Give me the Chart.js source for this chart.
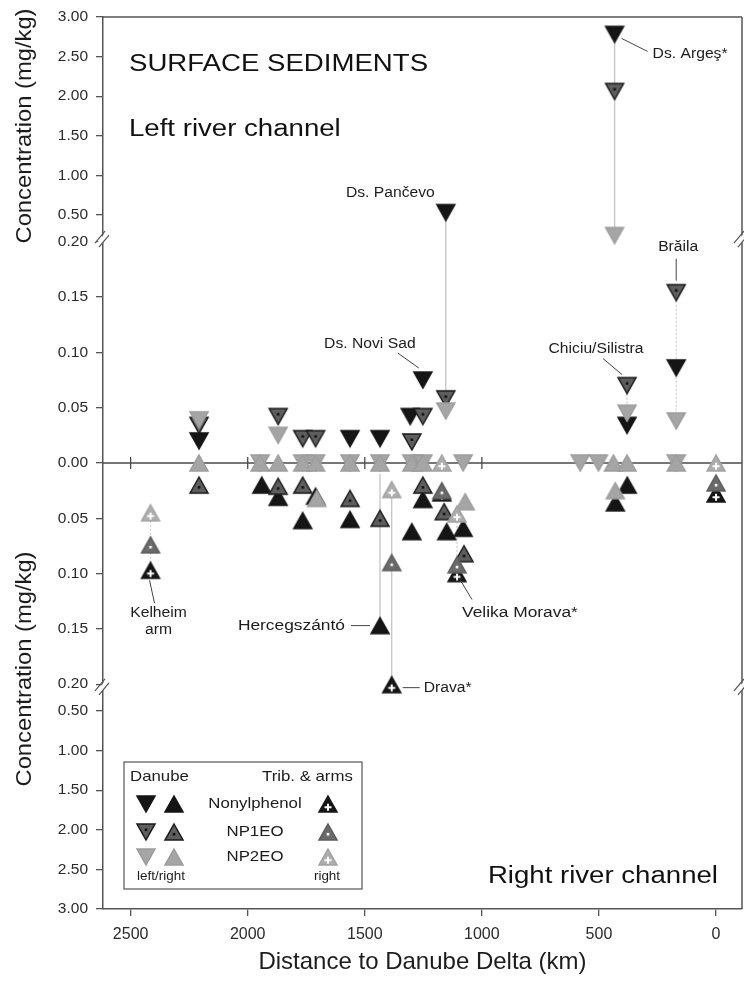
<!DOCTYPE html>
<html>
<head>
<meta charset="utf-8">
<script src="https://cdn.jsdelivr.net/npm/chart.js@4"></script>
<style>
  html, body { margin: 0; padding: 0; background: #fff; }
  #wrap { width: 744px; height: 981px; }
</style>
</head>
<body>
<div id="wrap"><canvas id="myChart" width="744" height="981"></canvas></div>
<script>
// ---- data (km to Danube Delta, concentration mg/kg) ----
// Danube, left river channel (drawn upward)
const npLeftKm   = [2208, 1563, 1435, 1306, 1252, 1154, 433, 380, 170];
const npLeftVal  = [0.020, 0.022, 0.022, 0.042, 0.075, 0.53, 2.78, 0.034, 0.086];
const np1LeftKm  = [2208, 1870, 1765, 1710, 1299, 1252, 1154, 433, 380, 170];
const np1LeftVal = [0.034, 0.042, 0.022, 0.022, 0.019, 0.042, 0.058, 2.06, 0.070, 0.154];
const np2LeftKm  = [2208, 1947, 1870, 1765, 1710, 1563, 1435, 1299, 1252, 1154, 1080, 580, 502, 433, 380, 170, 170];
const np2LeftVal = [0.039, 0, 0.025, 0, 0, 0, 0, 0, 0, 0.047, 0, 0, 0, 0.27, 0.045, 0.038, 0];

// Danube, right river channel (drawn downward)
const npRightKm   = [1940, 1870, 1765, 1710, 1563, 1435, 1299, 1252, 1150, 1080, 430, 379];
const npRightVal  = [0.020, 0.031, 0.052, 0.030, 0.051, 0.147, 0.062, 0.033, 0.062, 0.059, 0.036, 0.020];
const np1RightKm  = [2208, 1870, 1765, 1563, 1435, 1252, 1161, 1076];
const np1RightVal = [0.020, 0.021, 0.020, 0.032, 0.050, 0.020, 0.044, 0.082];
const np2RightKm  = [2208, 1947, 1870, 1765, 1710, 1705, 1563, 1435, 1299, 1252, 1071, 438, 430, 380, 170];
const np2RightVal = [0, 0, 0, 0, 0, 0.032, 0, 0, 0, 0, 0.035, 0, 0.025, 0, 0];

// tributaries & arms (right)
const tribKm     = [2415, 1385, 1171, 1106, 0];
const tribNpVal  = [0.097, 0.205, 0.027, 0.100, 0.028];
const tribNp1Val = [0.074, 0.090, 0.025, 0.092, 0.018];
const tribNp2Val = [0.045, 0.024, 0, 0.046, 0];

// vertical connectors between samples of one site
const linkKm   = [433, 1154, 170, 380, 1435, 1385, 2415, 1106];
const linkFrom = [2.78, 0.53, 0.154, 0.070, 0.010, 0.024, 0.045, 0.046];
const linkTo   = [0.27, 0.047, 0.038, 0.034, 0.147, 0.205, 0.097, 0.100];
const linkSide = ['L', 'L', 'L', 'L', 'R', 'R', 'R', 'R'];
const linkDots = [false, false, true, true, false, false, true, true];

// site labels
const siteNames = ['Ds. Argeş*', 'Ds. Pančevo', 'Ds. Novi Sad', 'Chiciu/Silistra', 'Brăila', 'Kelheim', 'Hercegszántó', 'Drava*', 'Velika Morava*'];
const siteKm    = [433, 1154, 1252, 380, 170, 2415, 1435, 1385, 1106];
const siteVal   = [2.78, 0.53, 0.075, 0.070, 0.154, 0.097, 0.147, 0.205, 0.100];
const siteSide  = ['L', 'L', 'L', 'L', 'L', 'R', 'R', 'R', 'R'];

// axis ticks
const xTickVals = [0, 500, 1000, 1500, 2000, 2500];
const yTickVals = [3.00, 2.50, 2.00, 1.50, 1.00, 0.50, 0.20, 0.15, 0.10, 0.05, 0.00];

// ---- broken axis mapping: 0-0.2 linear, break, 0.5-3 compressed ----
const GAP = 0.485, SEG = 0.716;
function yPos(v) {
  const a = Math.abs(v);
  if (a <= 0.2) return a * 20;
  if (a <= 0.5) return 4 + (a - 0.2) / 0.3 * GAP;
  return 4 + GAP + (a - 0.5) / 0.5 * SEG;
}
const Y_MAX = yPos(3);
const side = (s, v) => s === 'L' ? yPos(v) : -yPos(v);

const yTicks = [];
yTickVals.forEach(v => yTicks.push({ value: yPos(v), label: v.toFixed(2) }));
yTickVals.slice(0, -1).forEach(v => yTicks.push({ value: -yPos(v), label: v.toFixed(2) }));

const FONT = '"Liberation Sans", Arial, sans-serif';

// ---- marker symbols ----
function marker(dir, fill, stroke, mark, markColor) {
  const W = 18, H = 16, p = 2;
  const c = document.createElement('canvas');
  c.width = W + 2 * p; c.height = H + 2 * p;
  const g = c.getContext('2d');
  g.beginPath();
  if (dir === 'down') { g.moveTo(p, p); g.lineTo(p + W, p); g.lineTo(p + W / 2, p + H); }
  else { g.moveTo(p + W / 2, p); g.lineTo(p + W, p + H); g.lineTo(p, p + H); }
  g.closePath();
  g.fillStyle = fill; g.fill();
  if (stroke) { g.lineWidth = 1.5; g.strokeStyle = stroke; g.stroke(); }
  const cx = p + W / 2, cy = dir === 'down' ? p + H * 0.36 : p + H * 0.64;
  if (mark === 'dot') { g.fillStyle = markColor; g.fillRect(cx - 1.3, cy - 1.3, 2.6, 2.6); }
  if (mark === 'cross') {
    g.strokeStyle = markColor; g.lineWidth = 2;
    g.beginPath();
    g.moveTo(cx - 3.5, cy + 1); g.lineTo(cx + 3.5, cy + 1);
    g.moveTo(cx, cy - 2.5); g.lineTo(cx, cy + 4.5);
    g.stroke();
  }
  return c;
}
const sym = {
  npL: marker('down', '#151515', '#151515'),
  np1L: marker('down', '#5e5e5e', '#1a1a1a', 'dot', '#111'),
  np2L: marker('down', '#a5a5a5', '#9d9d9d'),
  npR: marker('up', '#151515', '#151515'),
  np1R: marker('up', '#5e5e5e', '#1a1a1a', 'dot', '#111'),
  np2R: marker('up', '#a5a5a5', '#9d9d9d'),
  tNp: marker('up', '#151515', '#151515', 'cross', '#fff'),
  tNp1: marker('up', '#6a6a6a', '#5c5c5c', 'dot', '#fff'),
  tNp2: marker('up', '#adadad', '#a3a3a3', 'cross', '#fff')
};

function pts(km, vals, s) { return km.map((k, i) => ({ x: k, y: side(s, vals[i]) })); }
function series(km, vals, s, style, order) {
  return { type: 'scatter', data: pts(km, vals, s), pointStyle: style, pointRadius: 9, order: order };
}

const datasets = [];
linkKm.forEach((k, i) => {
  datasets.push({
    type: 'line', order: 50,
    data: [{ x: k, y: side(linkSide[i], linkFrom[i]) }, { x: k, y: side(linkSide[i], linkTo[i]) }],
    borderColor: linkDots[i] ? '#d0d0d0' : '#c4c4c4', borderWidth: 1.3,
    borderDash: linkDots[i] ? [2, 2] : [], pointRadius: 0
  });
});
datasets.push(series(npLeftKm, npLeftVal, 'L', sym.npL, 9));
datasets.push(series(np1LeftKm, np1LeftVal, 'L', sym.np1L, 8));
datasets.push(series(np2LeftKm, np2LeftVal, 'L', sym.np2L, 7));
datasets.push(series(npRightKm, npRightVal, 'R', sym.npR, 6));
datasets.push(series(np1RightKm, np1RightVal, 'R', sym.np1R, 5));
datasets.push(series(np2RightKm, np2RightVal, 'R', sym.np2R, 4));
datasets.push(series(tribKm, tribNpVal, 'R', sym.tNp, 3));
datasets.push(series(tribKm, tribNp1Val, 'R', sym.tNp1, 2));
datasets.push(series(tribKm, tribNp2Val, 'R', sym.tNp2, 1));

// ---- drawing helpers ----
function txt(ctx, s, x, y, size, align, color, sx) {
  ctx.save();
  ctx.font = size + 'px ' + FONT;
  ctx.fillStyle = color || '#1c1c1c';
  ctx.textBaseline = 'middle';
  ctx.textAlign = align || 'left';
  ctx.translate(x, y);
  ctx.scale(sx || 1.15, 1);
  ctx.fillText(s, 0, 0);
  ctx.restore();
}
function seg(ctx, x1, y1, x2, y2, color, w) {
  ctx.save();
  ctx.strokeStyle = color || '#333'; ctx.lineWidth = w || 1;
  ctx.beginPath(); ctx.moveTo(x1, y1); ctx.lineTo(x2, y2); ctx.stroke();
  ctx.restore();
}

// label placement relative to the anchored sample (pixels)
const labelLayout = [
  { dx: 38, dy: 20, align: 'left', lead: [7, 4, 33, 17] },
  { dx: -11, dy: -19, align: 'right' },
  { dx: -53, dy: -36, align: 'center', lead: [-25, -27, -4, -12] },
  { dx: -31, dy: -36, align: 'center', lead: [-24, -27, -5, -11] },
  { dx: 2, dy: -46, align: 'center', lead: [0, -34, 0, -12] },
  { dx: 8, dy: 43, align: 'center', lead: [-1, 10, 4, 33], second: 'arm' },
  { dx: -35, dy: 0, align: 'right', lead: [-29, 0, -10, 0], size: 15.5 },
  { dx: 32, dy: 3, align: 'left', lead: [11, 3, 28, 3] },
  { dx: 5, dy: 39, align: 'left', lead: [3, 6, 15, 26], size: 15.5 }
];

const overlay = {
  id: 'overlay',
  beforeDatasetsDraw(chart) {
    const { ctx, chartArea: a, scales: { x, y } } = chart;
    const y0 = y.getPixelForValue(0);
    seg(ctx, a.left, y0, a.right, y0, '#4a4a4a', 1.3);
    xTickVals.forEach(v => {
      const px = x.getPixelForValue(v);
      seg(ctx, px, y0 - 6, px, y0 + 6, '#4a4a4a', 1.3);
    });
  },
  afterDatasetsDraw(chart) {
    const { ctx, chartArea: a, scales: { x, y } } = chart;
    // frame top / right
    seg(ctx, a.left, a.top, a.right, a.top, '#555', 1.5);
    seg(ctx, a.right, a.top, a.right, a.bottom, '#555', 1.5);
    // axis breaks
    [yPos(0.2) + 0.05, -yPos(0.2) - 0.05].forEach(v => {
      const py = y.getPixelForValue(v);
      [a.left, a.right].forEach(px => {
        ctx.save();
        ctx.fillStyle = '#fff';
        ctx.beginPath();
        ctx.moveTo(px - 7, py + 5); ctx.lineTo(px + 3, py - 7); ctx.lineTo(px + 7, py - 5); ctx.lineTo(px - 3, py + 7);
        ctx.closePath(); ctx.fill();
        ctx.restore();
        seg(ctx, px - 8, py + 4, px + 2, py - 8, '#555', 1.2);
        seg(ctx, px - 4, py + 8, px + 6, py - 4, '#555', 1.2);
      });
    });
    // site labels
    siteNames.forEach((name, i) => {
      const L = labelLayout[i];
      const px = x.getPixelForValue(siteKm[i]);
      const py = y.getPixelForValue(side(siteSide[i], siteVal[i]));
      if (L.lead) seg(ctx, px + L.lead[0], py + L.lead[1], px + L.lead[2], py + L.lead[3], '#444', 1);
      txt(ctx, name, px + L.dx, py + L.dy, L.size || 14, L.align, '#1c1c1c', 1.12);
      if (L.second) txt(ctx, L.second, px + L.dx, py + L.dy + 17, 14, L.align, '#1c1c1c', 1.12);
    });
    // panel texts
    txt(ctx, 'SURFACE SEDIMENTS', a.left + 26, 65, 23, 'left', '#111', 1.2);
    txt(ctx, 'Left river channel', a.left + 26, 130, 23, 'left', '#111', 1.2);
    txt(ctx, 'Right river channel', a.right - 24, 877, 23, 'right', '#111', 1.2);
    // y titles
    [126, 669].forEach(cy => {
      ctx.save();
      ctx.translate(25, cy); ctx.rotate(-Math.PI / 2); ctx.scale(1.08, 1);
      ctx.font = '22px ' + FONT; ctx.fillStyle = '#1c1c1c';
      ctx.textAlign = 'center'; ctx.textBaseline = 'middle';
      ctx.fillText('Concentration (mg/kg)', 0, 0);
      ctx.restore();
    });
    // legend box
    const bx = 124, by = 762, bw = 238, bh = 127;
    ctx.save();
    ctx.fillStyle = '#fff'; ctx.fillRect(bx, by, bw, bh);
    ctx.strokeStyle = '#555'; ctx.lineWidth = 1.2; ctx.strokeRect(bx, by, bw, bh);
    ctx.restore();
    txt(ctx, 'Danube', 130, 777, 15, 'left', '#1c1c1c', 1.12);
    txt(ctx, 'Trib. & arms', 262, 777, 15, 'left', '#1c1c1c', 1.12);
    const rows = [[804, 'Nonylphenol', sym.npL, sym.npR, sym.tNp],
                  [832, 'NP1EO', sym.np1L, sym.np1R, sym.tNp1],
                  [857, 'NP2EO', sym.np2L, sym.np2R, sym.tNp2]];
    rows.forEach(([ry, t, d, u, tr]) => {
      ctx.drawImage(d, 146 - d.width / 2, ry - d.height / 2);
      ctx.drawImage(u, 174 - u.width / 2, ry - u.height / 2);
      ctx.drawImage(tr, 328 - tr.width / 2, ry - tr.height / 2);
      txt(ctx, t, 255, ry, 15, 'center', '#1c1c1c', 1.12);
    });
    txt(ctx, 'left/right', 161, 877, 12, 'center', '#1c1c1c', 1.12);
    txt(ctx, 'right', 327, 877, 12, 'center', '#1c1c1c', 1.12);
  }
};

const ctx = document.getElementById('myChart').getContext('2d');
const chart = new Chart(ctx, {
  data: { datasets: datasets },
  options: {
    responsive: false,
    animation: false,
    events: [],
    layout: { autoPadding: false, padding: { top: 17, right: 2, left: 0, bottom: 0 } },
    plugins: { legend: { display: false }, tooltip: { enabled: false } },
    scales: {
      x: {
        type: 'linear', reverse: true, min: -111, max: 2618,
        afterBuildTicks: s => { s.ticks = xTickVals.map(v => ({ value: v })); },
        afterFit: s => { s.height = 72; s.paddingLeft = 0; s.paddingRight = 0; },
        ticks: {
          autoSkip: false, maxRotation: 0, padding: 9, color: '#2a2a2a',
          font: { family: FONT, size: 16 },
          callback: v => String(v)
        },
        grid: { drawOnChartArea: false, tickLength: 7, color: '#555', lineWidth: 1.3 },
        border: { color: '#555', width: 1.5 },
        title: { display: true, text: 'Distance to Danube Delta (km)', color: '#1c1c1c', font: { family: FONT, size: 24 }, padding: { top: 4, bottom: 4 } }
      },
      y: {
        type: 'linear', min: -Y_MAX, max: Y_MAX,
        afterBuildTicks: s => { s.ticks = yTicks.map(t => ({ value: t.value })); },
        afterFit: s => { s.width = 103; s.paddingTop = 0; s.paddingBottom = 0; },
        ticks: {
          autoSkip: false, padding: 8, color: '#2a2a2a', font: { family: FONT, size: 15.5 },
          callback: v => {
            let best = yTicks[0];
            yTicks.forEach(t => { if (Math.abs(t.value - v) < Math.abs(best.value - v)) best = t; });
            return best.label;
          }
        },
        grid: { drawOnChartArea: false, tickLength: 7, color: '#555', lineWidth: 1.3 },
        border: { color: '#555', width: 1.5 }
      }
    }
  },
  plugins: [overlay]
});
</script>
</body>
</html>
